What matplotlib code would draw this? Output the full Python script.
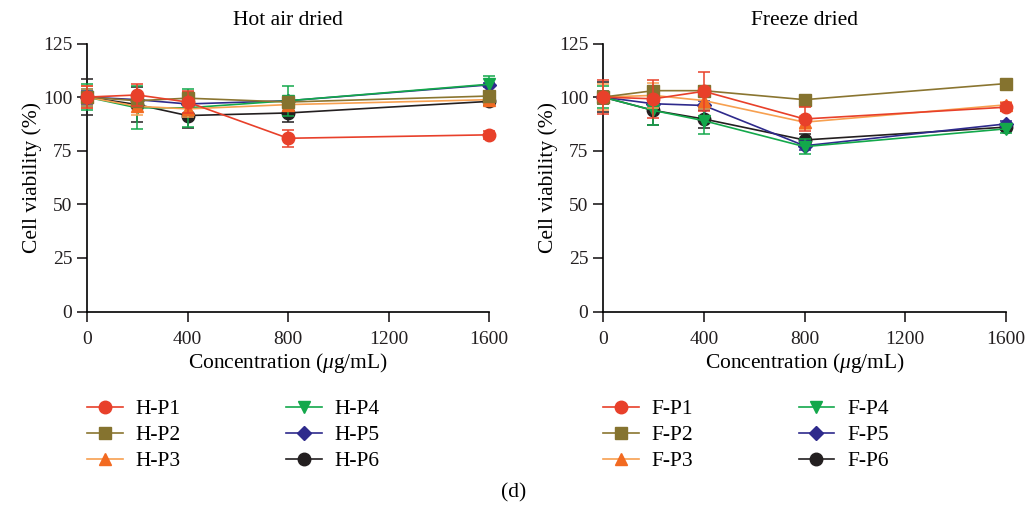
import matplotlib
matplotlib.use("Agg")
import matplotlib.pyplot as plt
from matplotlib.lines import Line2D

plt.rcParams['font.family'] = ['Liberation Serif', 'DejaVu Serif']
plt.rcParams['mathtext.fontset'] = 'custom'
plt.rcParams['mathtext.it'] = 'Liberation Serif:italic'
plt.rcParams['mathtext.rm'] = 'Liberation Serif'

conc = [0, 200, 400, 800, 1600]
x_ticks = [0, 400, 800, 1200, 1600]
y_ticks = [0, 25, 50, 75, 100, 125]

hot_labels = ["H-P1", "H-P2", "H-P3", "H-P4", "H-P5", "H-P6"]
freeze_labels = ["F-P1", "F-P2", "F-P3", "F-P4", "F-P5", "F-P6"]

# Hot air dried: means and SD
h_p1 = [100, 101.0, 97.7, 80.8, 82.4]
h_p2 = [100, 98.3, 99.5, 97.7, 100.5]
h_p3 = [100, 95.7, 94.5, 96.5, 98.8]
h_p4 = [100, 95.0, 95.0, 98.3, 106.0]
h_p5 = [100, 98.8, 96.8, 98.3, 105.7]
h_p6 = [100, 96.5, 91.4, 92.6, 98.0]
h_p1_err = [5, 5, 5, 4, 2]
h_p2_err = [4, 3, 3, 2, 2]
h_p3_err = [5, 4, 4, 3, 2]
h_p4_err = [6, 10, 9, 7, 4]
h_p5_err = [3, 2, 2, 1, 1]
h_p6_err = [8.5, 8, 6, 4, 1.5]

# Freeze dried: means and SD
f_p1 = [100, 99.2, 102.7, 89.8, 95.3]
f_p2 = [100, 103.0, 103.0, 98.8, 106.3]
f_p3 = [100, 100.8, 98.4, 88.3, 96.4]
f_p4 = [100, 93.8, 89.0, 76.9, 85.2]
f_p5 = [100, 96.9, 96.1, 77.3, 87.5]
f_p6 = [100, 93.8, 89.8, 80.0, 86.0]
f_p1_err = [8, 9, 9, 5.5, 2]
f_p2_err = [3, 2, 2, 1, 1]
f_p3_err = [6, 6, 4, 3, 1.5]
f_p4_err = [5, 7, 6, 3.5, 2]
f_p5_err = [3, 2, 2, 2, 1.5]
f_p6_err = [7, 7, 4, 3, 1.5]

line_colors = ['#E8402A', '#8A7530', '#F7A050', '#13A84B', '#2E2A8C', '#231F20']
marker_colors = ['#E8402A', '#85732F', '#F26A21', '#13A84B', '#2E2A8C', '#231F20']
markers = ['o', 's', '^', 'v', 'D', 'o']
msizes = [9, 8.5, 9, 9, 6.8, 9]

fig = plt.figure(figsize=(10.28, 5.08), dpi=100)
ax1 = fig.add_axes([87/1028, 1-311.5/508, 402/1028, 268/508])
ax2 = fig.add_axes([603/1028, 1-311.5/508, 403/1028, 268/508])

def draw(ax, series, errs, labels, title):
    handles = []
    for i in reversed(range(6)):
        ax.errorbar(conc, series[i], yerr=errs[i], color=line_colors[i], ecolor=line_colors[i],
                    elinewidth=1.1, capsize=4.5, capthick=1.1, lw=1.2, marker=markers[i],
                    ms=msizes[i], mfc=marker_colors[i], mec=marker_colors[i],
                    clip_on=False, zorder=3 + (6 - i))
    for i in range(6):
        handles.append(Line2D([], [], color=line_colors[i], lw=1.2, marker=markers[i],
                              ms=msizes[i], mfc=marker_colors[i], mec=marker_colors[i],
                              label=labels[i]))
    ax.set_xlim(0, 1600)
    ax.set_ylim(0, 125)
    ax.set_xticks(x_ticks)
    ax.set_yticks(y_ticks)
    ax.spines['top'].set_visible(False)
    ax.spines['right'].set_visible(False)
    ax.spines['left'].set_linewidth(1.2)
    ax.spines['bottom'].set_linewidth(1.2)
    ax.tick_params(direction='out', length=7, width=1.2, labelsize=14, colors='#231F20')
    ax.tick_params(axis='x', pad=7)
    ax.set_title(title, fontsize=15.5, pad=13)
    ax.set_ylabel('Cell viability (%)', fontsize=15.5, labelpad=1)
    ax.set_xlabel(r'Concentration ($\mu$g/mL)', fontsize=15.5, labelpad=2)
    return handles

hh = draw(ax1, [h_p1, h_p2, h_p3, h_p4, h_p5, h_p6],
          [h_p1_err, h_p2_err, h_p3_err, h_p4_err, h_p5_err, h_p6_err], hot_labels, 'Hot air dried')
fh = draw(ax2, [f_p1, f_p2, f_p3, f_p4, f_p5, f_p6],
          [f_p1_err, f_p2_err, f_p3_err, f_p4_err, f_p5_err, f_p6_err], freeze_labels, 'Freeze dried')

for handles, x0 in [(hh, 87/1028), (fh, 603/1028)]:
    fig.legend(handles=handles, loc='upper left', bbox_to_anchor=(x0, 1-399/508), ncol=2,
               frameon=False, fontsize=15.5, handlelength=1.65, handletextpad=0.6,
               columnspacing=4.9, labelspacing=0.28, borderaxespad=0, borderpad=0)

fig.text(514/1028, 1-493/508, '(d)', ha='center', va='center', fontsize=15.5)

fig.savefig('out.png', dpi=100)
